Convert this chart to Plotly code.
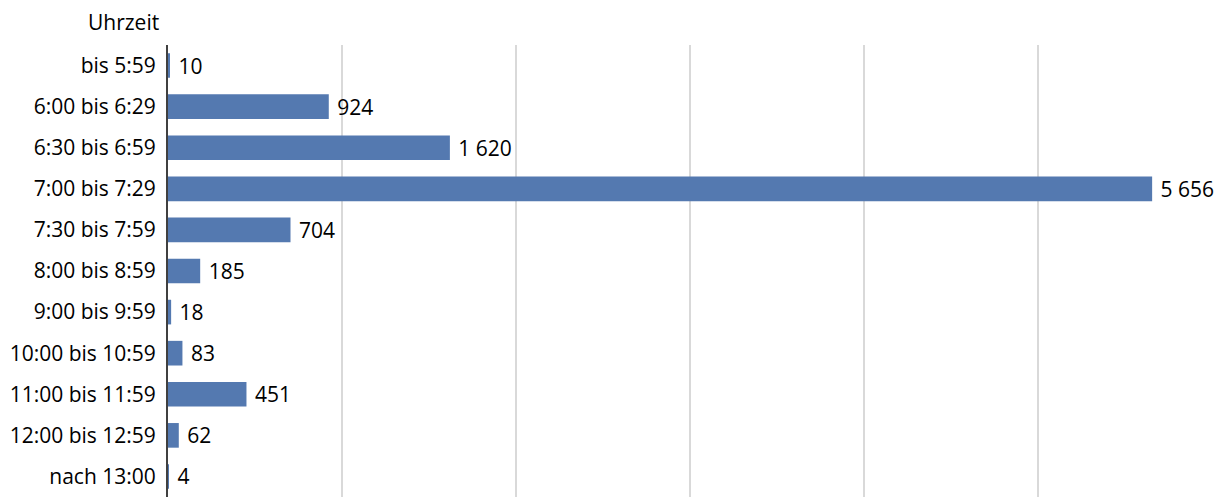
import plotly.graph_objects as go

categories = ["bis 5:59", "6:00 bis 6:29", "6:30 bis 6:59", "7:00 bis 7:29", "7:30 bis 7:59",
              "8:00 bis 8:59", "9:00 bis 9:59", "10:00 bis 10:59", "11:00 bis 11:59",
              "12:00 bis 12:59", "nach 13:00"]
values = [10, 924, 1620, 5656, 704, 185, 18, 83, 451, 62, 4]
axis_title = "Uhrzeit"

labels = [" " + f"{v:,}".replace(",", " ") for v in values]

FONT = "Open Sans"
FS = 21

fig = go.Figure(go.Bar(
    y=categories, x=values, orientation="h",
    marker=dict(color="#5479B0", line=dict(width=0)),
    text=labels, textposition="outside", cliponaxis=False, constraintext="none",
    textfont=dict(family=FONT, size=FS, color="#000000"),
    width=0.6,
))

# page body has an 8px default margin; compensate so plot area lands where it should
fig.update_layout(
    width=1214, height=489,
    margin=dict(l=160, r=10, t=37, b=0),
    plot_bgcolor="white", paper_bgcolor="white",
    showlegend=False,
    font=dict(family=FONT, size=FS, color="#000000"),
    xaxis=dict(range=[0, 6000], dtick=1000, showticklabels=False, showgrid=True,
               gridcolor="#D9D9D9", gridwidth=2, zeroline=False, showline=False, ticks="",
               automargin=False),
    yaxis=dict(categoryorder="array", categoryarray=categories, autorange="reversed",
               showline=True, linecolor="#404040", linewidth=2, ticks="", showgrid=False,
               automargin=False, ticklabelstandoff=6,
               tickfont=dict(family=FONT, size=FS, color="#000000")),
    annotations=[dict(text=axis_title, xref="paper", yref="paper", x=0, y=1, xshift=-8,
                      yshift=8, xanchor="right", yanchor="bottom", showarrow=False,
                      borderpad=0,
                      font=dict(family=FONT, size=FS, color="#000000"))],
)

fig.write_html("out.html")
